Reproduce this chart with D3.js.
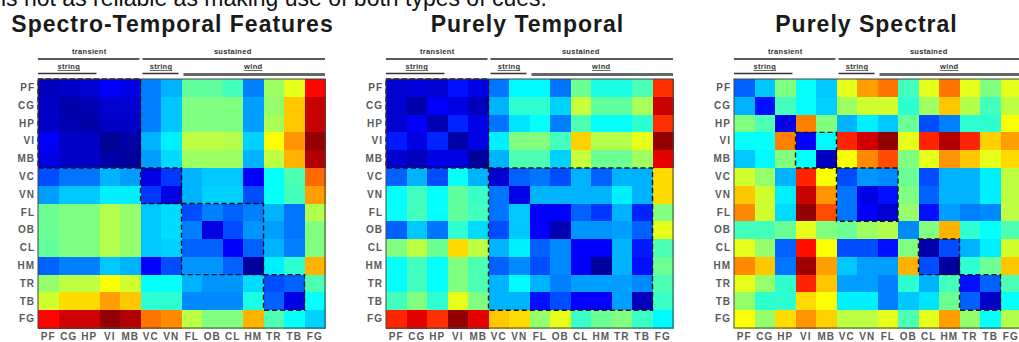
<!DOCTYPE html>
<html>
<head>
<meta charset="utf-8">
<script src="https://cdn.jsdelivr.net/npm/d3@7"></script>
<style>
    body { margin: 0; background: #fff; overflow: hidden; }
    svg { display: block; font-family: "Liberation Sans", Arial, sans-serif; }
    .tick text { font-size: 10px; font-weight: bold; fill: #5a5a5a; letter-spacing: 1px; }
    .head-label { font-size: 7.5px; font-weight: bold; fill: #333; letter-spacing: 0.3px; }
</style>
</head>
<body>
<svg id="chart"></svg>
<script>

const instruments = ["PF", "CG", "HP", "VI", "MB", "VC", "VN", "FL", "OB", "CL", "HM", "TR", "TB", "FG"];
const titles = ["Spectro-Temporal Features", "Purely Temporal", "Purely Spectral"];
const leadText = "is not as reliable as making use of both types of cues.";

// header groups: index ranges into instruments
const topGroups = [
    {label: "transient", from: 0, to: 4},
    {label: "sustained", from: 5, to: 13}
];
const subGroups = [
    {label: "string", from: 0, to: 2},
    {label: "string", from: 5, to: 6},
    {label: "wind", from: 7, to: 13}
];

// dashed cluster blocks per panel
const clusters = [
    [[0, 4], [5, 6], [7, 10], [11, 12]],
    [[0, 4], [5, 12]],
    [[3, 4], [5, 7], [9, 10], [11, 12]]
];

// dissimilarity values (0..1 on the jet map), rows = instruments
const spectroTemporal = [
    [0.06, 0.07, 0.08, 0.12, 0.10, 0.25, 0.30, 0.47, 0.47, 0.44, 0.25, 0.53, 0.60, 0.87],
    [0.07, 0.04, 0.05, 0.08, 0.08, 0.25, 0.32, 0.50, 0.50, 0.50, 0.28, 0.52, 0.68, 0.93],
    [0.07, 0.05, 0.04, 0.07, 0.07, 0.25, 0.32, 0.50, 0.50, 0.50, 0.28, 0.54, 0.68, 0.93],
    [0.12, 0.07, 0.07, 0.02, 0.04, 0.30, 0.36, 0.56, 0.56, 0.55, 0.33, 0.62, 0.73, 0.98],
    [0.10, 0.07, 0.07, 0.04, 0.03, 0.28, 0.34, 0.53, 0.53, 0.53, 0.30, 0.56, 0.70, 0.95],
    [0.20, 0.24, 0.24, 0.30, 0.28, 0.10, 0.18, 0.30, 0.32, 0.32, 0.12, 0.38, 0.45, 0.77],
    [0.28, 0.32, 0.32, 0.36, 0.36, 0.18, 0.10, 0.30, 0.33, 0.33, 0.20, 0.38, 0.44, 0.72],
    [0.48, 0.50, 0.50, 0.55, 0.52, 0.32, 0.34, 0.20, 0.25, 0.22, 0.25, 0.30, 0.24, 0.55],
    [0.48, 0.50, 0.50, 0.55, 0.52, 0.32, 0.34, 0.25, 0.10, 0.20, 0.27, 0.28, 0.24, 0.50],
    [0.47, 0.50, 0.50, 0.55, 0.52, 0.32, 0.33, 0.22, 0.22, 0.12, 0.22, 0.30, 0.25, 0.50],
    [0.22, 0.25, 0.25, 0.32, 0.30, 0.12, 0.20, 0.27, 0.27, 0.22, 0.03, 0.36, 0.42, 0.70],
    [0.52, 0.56, 0.56, 0.62, 0.58, 0.38, 0.38, 0.30, 0.27, 0.27, 0.34, 0.20, 0.22, 0.45],
    [0.58, 0.66, 0.66, 0.72, 0.68, 0.42, 0.42, 0.26, 0.26, 0.26, 0.40, 0.22, 0.10, 0.38],
    [0.87, 0.92, 0.92, 0.98, 0.95, 0.76, 0.74, 0.56, 0.50, 0.50, 0.70, 0.45, 0.38, 0.33]
];

const purelyTemporal = [
    [0.08, 0.09, 0.08, 0.14, 0.10, 0.24, 0.37, 0.37, 0.24, 0.48, 0.40, 0.40, 0.45, 0.83],
    [0.08, 0.04, 0.12, 0.10, 0.06, 0.30, 0.42, 0.42, 0.33, 0.57, 0.47, 0.47, 0.54, 0.93],
    [0.08, 0.12, 0.05, 0.16, 0.10, 0.24, 0.35, 0.38, 0.25, 0.45, 0.38, 0.38, 0.42, 0.83],
    [0.15, 0.10, 0.16, 0.04, 0.10, 0.36, 0.50, 0.50, 0.44, 0.67, 0.55, 0.55, 0.60, 0.98],
    [0.08, 0.06, 0.10, 0.10, 0.03, 0.30, 0.45, 0.45, 0.33, 0.57, 0.48, 0.48, 0.53, 0.90],
    [0.22, 0.30, 0.20, 0.38, 0.30, 0.08, 0.22, 0.24, 0.20, 0.30, 0.22, 0.30, 0.30, 0.66],
    [0.38, 0.44, 0.38, 0.47, 0.43, 0.24, 0.10, 0.30, 0.30, 0.30, 0.30, 0.36, 0.30, 0.66],
    [0.38, 0.44, 0.38, 0.47, 0.44, 0.24, 0.32, 0.12, 0.12, 0.22, 0.18, 0.30, 0.16, 0.50],
    [0.22, 0.32, 0.24, 0.42, 0.34, 0.20, 0.32, 0.12, 0.05, 0.27, 0.27, 0.28, 0.22, 0.60],
    [0.50, 0.56, 0.48, 0.66, 0.56, 0.30, 0.36, 0.22, 0.26, 0.12, 0.12, 0.30, 0.15, 0.45],
    [0.38, 0.44, 0.38, 0.50, 0.45, 0.22, 0.26, 0.20, 0.26, 0.12, 0.03, 0.30, 0.14, 0.48],
    [0.38, 0.44, 0.38, 0.50, 0.45, 0.30, 0.37, 0.30, 0.25, 0.28, 0.28, 0.28, 0.26, 0.45],
    [0.44, 0.50, 0.42, 0.60, 0.50, 0.30, 0.30, 0.14, 0.20, 0.12, 0.12, 0.28, 0.06, 0.43],
    [0.84, 0.90, 0.83, 0.98, 0.90, 0.68, 0.66, 0.52, 0.60, 0.43, 0.48, 0.50, 0.43, 0.37]
];

const purelySpectral = [
    [0.22, 0.32, 0.50, 0.38, 0.32, 0.60, 0.72, 0.76, 0.44, 0.60, 0.76, 0.60, 0.50, 0.60],
    [0.30, 0.14, 0.44, 0.38, 0.33, 0.53, 0.58, 0.58, 0.42, 0.53, 0.68, 0.55, 0.44, 0.56],
    [0.50, 0.45, 0.10, 0.75, 0.50, 0.30, 0.36, 0.32, 0.48, 0.20, 0.25, 0.42, 0.42, 0.62],
    [0.38, 0.38, 0.75, 0.12, 0.37, 0.84, 0.92, 0.98, 0.60, 0.84, 0.95, 0.84, 0.67, 0.72],
    [0.32, 0.37, 0.50, 0.38, 0.06, 0.62, 0.74, 0.80, 0.50, 0.60, 0.73, 0.68, 0.60, 0.66],
    [0.58, 0.52, 0.30, 0.84, 0.62, 0.20, 0.27, 0.26, 0.48, 0.20, 0.30, 0.30, 0.36, 0.56],
    [0.68, 0.58, 0.36, 0.93, 0.73, 0.24, 0.10, 0.14, 0.50, 0.22, 0.30, 0.30, 0.36, 0.56],
    [0.74, 0.58, 0.34, 0.98, 0.80, 0.24, 0.12, 0.08, 0.52, 0.14, 0.28, 0.25, 0.26, 0.56],
    [0.44, 0.44, 0.48, 0.60, 0.50, 0.48, 0.53, 0.55, 0.26, 0.50, 0.70, 0.42, 0.38, 0.45],
    [0.60, 0.52, 0.22, 0.86, 0.62, 0.20, 0.20, 0.14, 0.50, 0.04, 0.20, 0.30, 0.36, 0.58],
    [0.74, 0.68, 0.24, 0.97, 0.72, 0.32, 0.28, 0.28, 0.70, 0.20, 0.03, 0.42, 0.48, 0.68],
    [0.60, 0.52, 0.42, 0.84, 0.68, 0.28, 0.28, 0.25, 0.42, 0.30, 0.44, 0.14, 0.22, 0.45],
    [0.52, 0.42, 0.42, 0.66, 0.62, 0.36, 0.36, 0.25, 0.32, 0.35, 0.48, 0.22, 0.07, 0.38],
    [0.62, 0.52, 0.66, 0.73, 0.67, 0.56, 0.56, 0.60, 0.45, 0.60, 0.72, 0.52, 0.38, 0.55]
];

const matrices = [spectroTemporal, purelyTemporal, purelySpectral];


const width = 1019,
    height = 342;

const grid = {top: 79, width: 287, height: 249};
const panelLeft = [38, 386, 734];
const titleShift = [-9, -2, -11];

const svg = d3.select("#chart")
    .attr("width", width)
    .attr("height", height);

// matlab style jet colormap
const jet = d3.scaleLinear()
    .domain([0, 0.125, 0.375, 0.625, 0.875, 1])
    .range(["#00007f", "#0000ff", "#00ffff", "#ffff00", "#ff0000", "#7f0000"])
    .interpolate(d3.interpolateRgb)
    .clamp(true);

const x = d3.scaleBand().domain(instruments).range([0, grid.width]);
const y = d3.scaleBand().domain(instruments).range([0, grid.height]);

// sentence cut off at the top of the picture
svg.append("text")
    .attr("x", 1)
    .attr("y", 6)
    .style("font-size", "23px")
    .style("fill", "#111")
    .text(leadText);


function drawPanel(i) {
    const g = svg.append("g")
        .attr("transform", "translate(" + panelLeft[i] + "," + grid.top + ")");

    g.append("text")
        .attr("x", grid.width / 2 + titleShift[i])
        .attr("y", -47)
        .attr("text-anchor", "middle")
        .style("font-size", "23px")
        .style("font-weight", "bold")
        .style("fill", "#1a1a1a")
        .style("letter-spacing", "1px")
        .text(titles[i]);

    // header group lines
    g.selectAll(".top-line")
        .data(topGroups)
        .enter().append("line")
        .attr("x1", function (d) { return x(instruments[d.from]) + (d.from ? 2 : 0); })
        .attr("x2", function (d) { return x(instruments[d.to]) + x.bandwidth() - (d.to < 13 ? 1 : 0); })
        .attr("y1", -20)
        .attr("y2", -20)
        .attr("stroke", "#222")
        .attr("stroke-width", 1.6);

    g.selectAll(".top-label")
        .data(topGroups)
        .enter().append("text")
        .attr("class", "head-label")
        .attr("x", function (d) { return (x(instruments[d.from]) + x(instruments[d.to]) + x.bandwidth()) / 2; })
        .attr("y", -25)
        .attr("text-anchor", "middle")
        .text(function (d) { return d.label; });

    g.selectAll(".sub-line")
        .data(subGroups)
        .enter().append("line")
        .attr("x1", function (d) { return x(instruments[d.from]) + (d.from ? 2 : 0); })
        .attr("x2", function (d) { return x(instruments[d.to]) + x.bandwidth() - (d.to < 13 ? 3 : 0); })
        .attr("y1", function (d) { return d.label === "wind" ? -4.5 : -5.5; })
        .attr("y2", function (d) { return d.label === "wind" ? -4.5 : -5.5; })
        .attr("stroke", function (d) { return d.label === "wind" ? "#666" : "#333"; })
        .attr("stroke-width", function (d) { return d.label === "wind" ? 3 : 1.6; });

    g.selectAll(".sub-label")
        .data(subGroups)
        .enter().append("text")
        .attr("class", "head-label")
        .attr("x", function (d) { return (x(instruments[d.from]) + x(instruments[d.to]) + x.bandwidth()) / 2; })
        .attr("y", -10)
        .attr("text-anchor", "middle")
        .style("text-decoration", "underline")
        .text(function (d) { return d.label; });

    // cells
    const cells = [];
    matrices[i].forEach(function (row, r) {
        row.forEach(function (v, c) {
            cells.push({row: instruments[r], col: instruments[c], value: v});
        });
    });

    g.selectAll(".cell")
        .data(cells)
        .enter().append("rect")
        .attr("class", "cell")
        .attr("x", function (d) { return x(d.col); })
        .attr("y", function (d) { return y(d.row); })
        .attr("width", x.bandwidth() + 0.5)
        .attr("height", y.bandwidth() + 0.5)
        .attr("fill", function (d) { return jet(d.value); })
        .attr("shape-rendering", "crispEdges");

    // dashed cluster outlines
    g.selectAll(".cluster")
        .data(clusters[i])
        .enter().append("rect")
        .attr("class", "cluster")
        .attr("x", function (d) { return x(instruments[d[0]]); })
        .attr("y", function (d) { return y(instruments[d[0]]); })
        .attr("width", function (d) { return x(instruments[d[1]]) + x.bandwidth() - x(instruments[d[0]]); })
        .attr("height", function (d) { return y(instruments[d[1]]) + y.bandwidth() - y(instruments[d[0]]); })
        .attr("fill", "none")
        .attr("stroke", "#111")
        .attr("stroke-width", 1.4)
        .attr("stroke-dasharray", "5,3");

    g.append("rect")
        .attr("width", grid.width)
        .attr("height", grid.height)
        .attr("fill", "none")
        .attr("stroke", "#444")
        .attr("stroke-width", 1);

    g.append("g")
        .call(d3.axisLeft(y).tickSize(0).tickPadding(3))
        .call(function (a) { a.select(".domain").remove(); });

    g.append("g")
        .attr("transform", "translate(0," + grid.height + ")")
        .call(d3.axisBottom(x).tickSize(0).tickPadding(5))
        .call(function (a) { a.select(".domain").remove(); });
}

titles.forEach(function (t, i) { drawPanel(i); });

</script>
</body>
</html>
